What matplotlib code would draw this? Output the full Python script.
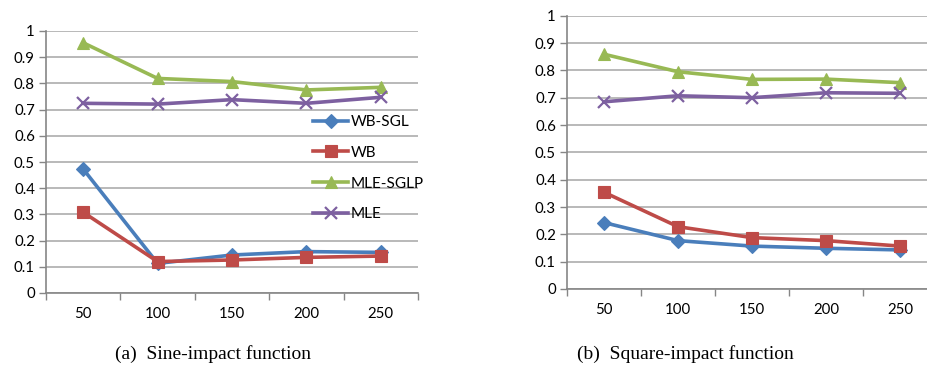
import matplotlib
matplotlib.use("Agg")
import matplotlib.pyplot as plt
import numpy as np

categories = ["50", "100", "150", "200", "250"]
series_names = ["WB-SGL", "WB", "MLE-SGLP", "MLE"]

sine_wb_sgl = [0.473, 0.113, 0.145, 0.158, 0.155]
sine_wb = [0.308, 0.120, 0.126, 0.136, 0.141]
sine_mle_sglp = [0.955, 0.819, 0.807, 0.775, 0.785]
sine_mle = [0.724, 0.721, 0.738, 0.724, 0.747]

square_wb_sgl = [0.243, 0.177, 0.157, 0.149, 0.143]
square_wb = [0.354, 0.228, 0.188, 0.177, 0.157]
square_mle_sglp = [0.859, 0.795, 0.767, 0.768, 0.755]
square_mle = [0.685, 0.707, 0.700, 0.718, 0.716]

yticks = [0, 0.1, 0.2, 0.3, 0.4, 0.5, 0.6, 0.7, 0.8, 0.9, 1]
ytick_labels = ["0", "0.1", "0.2", "0.3", "0.4", "0.5", "0.6", "0.7", "0.8", "0.9", "1"]

captions = ["(a)  Sine-impact function", "(b)  Square-impact function"]

colors = ["#4A7EBB", "#BE4B48", "#98B954", "#7D60A0"]
markers = ["D", "s", "^", "x"]
msizes = [7, 8.5, 9, 9]

W, H = 928, 371
fig = plt.figure(figsize=(W / 100, H / 100), dpi=100)

def px_axes(x0, x1, ytop, ybot):
    return fig.add_axes([x0 / W, 1 - ybot / H, (x1 - x0) / W, (ybot - ytop) / H])

ax1 = px_axes(46, 418, 31, 293)
ax2 = px_axes(567, 937, 15.7, 289)

font = "Lato"

def style(ax, data):
    x = np.arange(len(categories))
    for vals, name, c, m, ms in zip(data, series_names, colors, markers, msizes):
        ax.plot(x, vals, color=c, lw=2.6, marker=m, ms=ms, mew=1.6 if m == "x" else 0.8,
                mec=c, mfc=c, label=name, zorder=3, solid_joinstyle="round")
    ax.set_xlim(-0.5, len(categories) - 0.5)
    ax.set_ylim(0, 1)
    ax.set_yticks(yticks)
    ax.set_yticklabels(ytick_labels, fontsize=10.8, family=font)
    ax.set_xticks(x)
    ax.set_xticklabels(categories, fontsize=10.8, family=font)
    ax.set_xticks(np.arange(len(categories) + 1) - 0.5, minor=True)
    ax.tick_params(axis="x", which="major", length=0, pad=10)
    ax.tick_params(axis="x", which="minor", length=5, color="#868686", width=1, direction="out")
    ax.tick_params(axis="y", length=5, color="#868686", width=1, direction="out", pad=3)
    ax.grid(axis="y", color="#A6A6A6", lw=1.1)
    ax.set_axisbelow(True)
    for s in ["top", "right"]:
        ax.spines[s].set_visible(False)
    for s in ["left", "bottom"]:
        ax.spines[s].set_color("#868686")
        ax.spines[s].set_linewidth(1.2)

style(ax1, [sine_wb_sgl, sine_wb, sine_mle_sglp, sine_mle])
style(ax2, [square_wb_sgl, square_wb, square_mle_sglp, square_mle])

leg = ax1.legend(loc="upper left", bbox_to_anchor=(313 / W, 1 - 115 / H), bbox_transform=fig.transFigure,
                 frameon=False, prop={"family": font, "size": 11}, handlelength=2.3,
                 handletextpad=0.15, labelspacing=1.1, borderpad=0, borderaxespad=0, numpoints=1)

fig.text(213 / W, 1 - 354 / H, captions[0], ha="center", va="center", fontsize=14, family="Liberation Serif")
fig.text(685 / W, 1 - 354 / H, captions[1], ha="center", va="center", fontsize=14, family="Liberation Serif")

fig.savefig("out.png", dpi=100)
